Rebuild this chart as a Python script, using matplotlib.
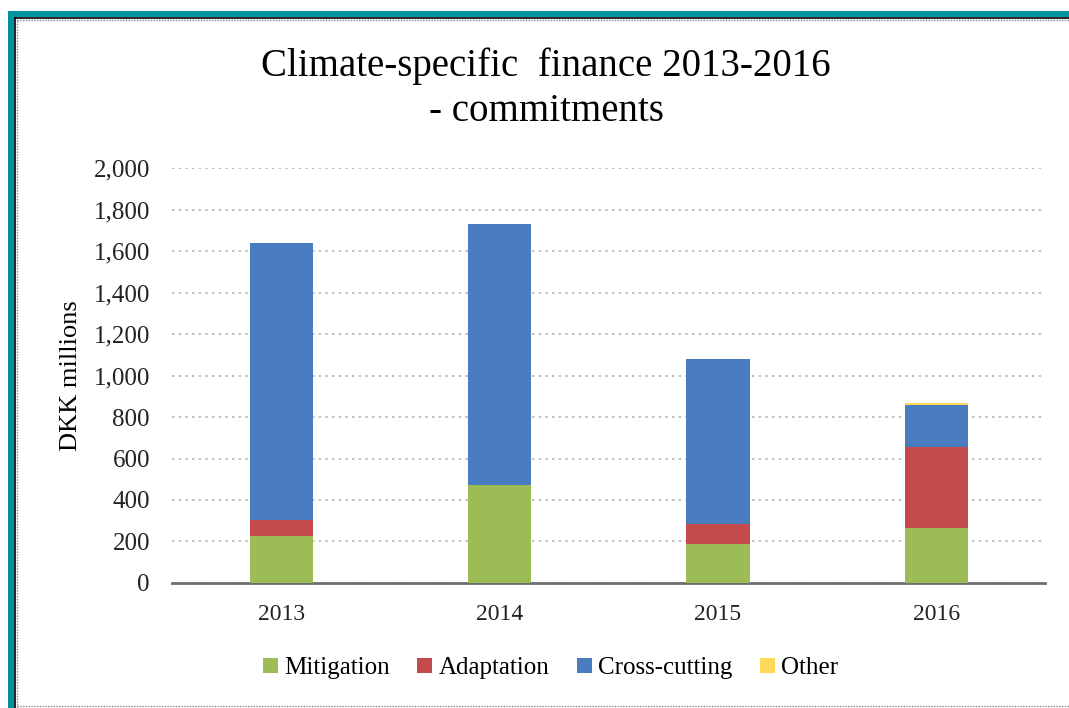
import matplotlib.pyplot as plt
import numpy as np
from matplotlib.patches import Rectangle
from matplotlib.lines import Line2D

years = ['2013', '2014', '2015', '2016']
mitigation = [225, 470, 190, 265]
adaptation = [80, 0, 95, 390]
cross_cutting = [1335, 1260, 795, 205]
other = [0, 0, 0, 6]

labels = ['Mitigation', 'Adaptation', 'Cross-cutting', 'Other']
colors = ['#9cbd55', '#c44b4b', '#4a7dbf', '#ffd95a']

plt.rcParams['font.family'] = ['Liberation Serif', 'DejaVu Serif']

fig = plt.figure(figsize=(10.69, 7.08), dpi=100)
ax = fig.add_axes([0.161, 0.1766, 0.817, 0.586])

x = np.arange(len(years))
bottom = np.zeros(len(years))
for vals, lab, col in zip([mitigation, adaptation, cross_cutting, other], labels, colors):
    ax.bar(x, vals, 0.29, bottom=bottom, color=col, label=lab, zorder=3)
    bottom += np.array(vals)

ax.set_xlim(-0.5, 3.5)
ax.set_ylim(0, 2000)
ax.set_yticks(np.arange(0, 2001, 200))
ax.set_yticklabels(['{:,}'.format(v) for v in range(0, 2001, 200)])
ax.set_xticks(x)
ax.set_xticklabels(years)
ax.tick_params(axis='both', length=0, labelsize=17, colors='#222222')
ax.tick_params(axis='y', labelsize=18, pad=16)
ax.tick_params(axis='x', pad=15)
ax.yaxis.grid(True, linestyle=(0, (1.5, 2.5)), color='#b5b5b5', linewidth=1.2, zorder=0)
for s in ['top', 'right', 'left']:
    ax.spines[s].set_visible(False)
ax.spines['bottom'].set_color('#6e6e6e')
ax.spines['bottom'].set_linewidth(2)
ax.set_ylabel('DKK millions', fontsize=19, labelpad=8)

fig.text(0.511, 0.907, 'Climate-specific  finance 2013-2016', ha='center', va='center', fontsize=28)
fig.text(0.511, 0.843, '- commitments', ha='center', va='center', fontsize=28)

fig.legend(loc='center', bbox_to_anchor=(0.515, 0.056), ncol=4, frameon=False, fontsize=18,
           handlelength=0.6, handleheight=0.6, handletextpad=0.25, columnspacing=1.1)

# frame: teal band on left and top, black and dotted inner lines
W, H = 1069, 708
fig.add_artist(Rectangle((8 / W, 0), 6 / W, 1 - 11 / H, transform=fig.transFigure, color='#00929f', lw=0))
fig.add_artist(Rectangle((8 / W, 1 - 17 / H), 1, 6 / H, transform=fig.transFigure, color='#00929f', lw=0))
fig.add_artist(Line2D([14.5 / W, 1], [1 - 17.5 / H] * 2, transform=fig.transFigure, color='black', lw=1.2))
fig.add_artist(Line2D([14.5 / W] * 2, [0, 1 - 17.5 / H], transform=fig.transFigure, color='black', lw=1.2))
fig.add_artist(Line2D([16.5 / W, 1], [1 - 19.5 / H] * 2, transform=fig.transFigure, color='#888888', lw=1, ls=(0, (1, 1))))
fig.add_artist(Line2D([16.5 / W] * 2, [0, 1 - 19.5 / H], transform=fig.transFigure, color='#888888', lw=1, ls=(0, (1, 1))))
fig.add_artist(Line2D([16.5 / W, 1], [1 - 706 / H] * 2, transform=fig.transFigure, color='#888888', lw=1, ls=(0, (1, 1))))

fig.savefig('out.png', dpi=100)
